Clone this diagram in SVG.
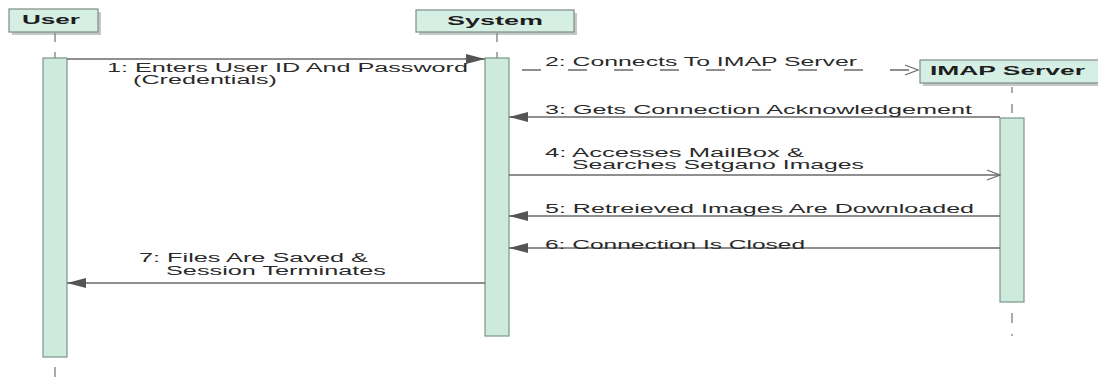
<svg xmlns="http://www.w3.org/2000/svg" width="1098" height="377" viewBox="0 0 1098 377">
  <style>
    .head { fill: #d6efe5; stroke: #7d8c86; stroke-width: 1.2; }
    .shadow { fill: #c4c8c6; }
    .bar { fill: #cdeadd; stroke: #7b958b; stroke-width: 1.2; }
    .life { stroke: #8a8f8d; stroke-width: 1.5; fill: none; }
    .title { font-family: "Liberation Sans", Arial, sans-serif; font-weight: bold; font-size: 12px; fill: #1e1e1e; }
    .lbl { font-family: "Liberation Sans", Arial, sans-serif; font-size: 12px; fill: #2a2a2a; }
    .msg { stroke: #6a6a6a; stroke-width: 1.3; fill: none; }
    .async { stroke-dasharray: 19 27; }
  </style>
  <defs>
    <marker id="filled" markerWidth="20" markerHeight="12" refX="19" refY="6" orient="auto" markerUnits="userSpaceOnUse">
      <path d="M0,1 L19,6 L0,11 Z" fill="#555"/>
    </marker>
    <marker id="open" markerWidth="16" markerHeight="12" refX="14" refY="6" orient="auto" markerUnits="userSpaceOnUse">
      <path d="M1,1 L14,6 L1,11" fill="none" stroke="#6a6a6a" stroke-width="1.2"/>
    </marker>
  </defs>
  <rect width="1098" height="377" fill="#ffffff"/>

  <!-- User lifeline -->
  <g id="user">
    <rect class="shadow" x="12" y="12" width="89" height="23"/>
    <rect class="head" x="9" y="9" width="89" height="23"/>
    <text class="title" x="22" y="24" textLength="58" lengthAdjust="spacingAndGlyphs">User</text>
    <line class="life" x1="55" y1="33" x2="55" y2="42"/>
    <line class="life" x1="55" y1="52" x2="55" y2="58"/>
    <rect class="bar" x="43" y="58" width="24" height="299"/>
    <line class="life" x1="55" y1="367" x2="55" y2="377"/>
  </g>

  <!-- System lifeline -->
  <g id="system">
    <rect class="shadow" x="419" y="13" width="158" height="22"/>
    <rect class="head" x="416" y="10" width="158" height="22"/>
    <text class="title" x="447" y="25" textLength="96" lengthAdjust="spacingAndGlyphs">System</text>
    <line class="life" x1="497" y1="33" x2="497" y2="42"/>
    <line class="life" x1="497" y1="52" x2="497" y2="58"/>
    <rect class="bar" x="485" y="58" width="24" height="278"/>
  </g>

  <!-- IMAP Server lifeline -->
  <g id="imap">
    <rect class="shadow" x="923" y="63" width="180" height="23"/>
    <rect class="head" x="920" y="60" width="180" height="23"/>
    <text class="title" x="930" y="75" textLength="155" lengthAdjust="spacingAndGlyphs">IMAP Server</text>
    <line class="life" x1="1012" y1="87" x2="1012" y2="93"/>
    <line class="life" x1="1012" y1="104" x2="1012" y2="113"/>
    <rect class="bar" x="1000" y="118" width="24" height="184"/>
    <line class="life" x1="1012" y1="313" x2="1012" y2="323"/>
    <line class="life" x1="1012" y1="334" x2="1012" y2="336"/>
  </g>

  <!-- Messages -->
  <g id="connectors">
    <line class="msg" x1="67" y1="59" x2="485" y2="59" marker-end="url(#filled)"/>
    <line class="msg async" x1="522" y1="70" x2="918" y2="70" marker-end="url(#open)"/>
    <line class="msg" x1="1000" y1="117" x2="509" y2="117" marker-end="url(#filled)"/>
    <line class="msg" x1="509" y1="175" x2="1000" y2="175" marker-end="url(#open)"/>
    <line class="msg" x1="1000" y1="216" x2="509" y2="216" marker-end="url(#filled)"/>
    <line class="msg" x1="1000" y1="248" x2="509" y2="248" marker-end="url(#filled)"/>
    <line class="msg" x1="485" y1="283" x2="67" y2="283" marker-end="url(#filled)"/>
  </g>

  <!-- Message labels -->
  <g id="labels">
    <text class="lbl" x="107" y="72" textLength="361" lengthAdjust="spacingAndGlyphs">1: Enters User ID And Password</text>
    <text class="lbl" x="133" y="84" textLength="144" lengthAdjust="spacingAndGlyphs">(Credentials)</text>
    <text class="lbl" x="545" y="66" textLength="312" lengthAdjust="spacingAndGlyphs">2: Connects To IMAP Server</text>
    <text class="lbl" x="545" y="114" textLength="427" lengthAdjust="spacingAndGlyphs">3: Gets Connection Acknowledgement</text>
    <text class="lbl" x="545" y="157" textLength="259" lengthAdjust="spacingAndGlyphs">4: Accesses MailBox &amp;</text>
    <text class="lbl" x="572" y="169" textLength="292" lengthAdjust="spacingAndGlyphs">Searches Setgano Images</text>
    <text class="lbl" x="545" y="213" textLength="429" lengthAdjust="spacingAndGlyphs">5: Retreieved Images Are Downloaded</text>
    <text class="lbl" x="545" y="249" textLength="260" lengthAdjust="spacingAndGlyphs">6: Connection Is Closed</text>
    <text class="lbl" x="139" y="262" textLength="229" lengthAdjust="spacingAndGlyphs">7: Files Are Saved &amp;</text>
    <text class="lbl" x="166" y="275" textLength="220" lengthAdjust="spacingAndGlyphs">Session Terminates</text>
  </g>
</svg>
